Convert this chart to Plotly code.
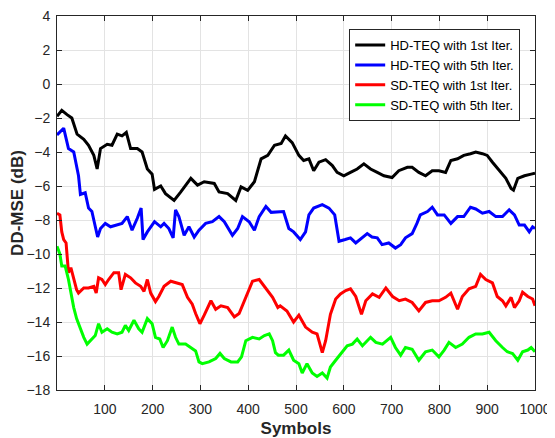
import plotly.graph_objects as go

# HD-TEQ with 1st Iter. (black)
hd1_x = [0, 10, 21, 31, 42, 56, 66, 77, 84, 91, 105, 115, 126, 136, 145, 154, 168, 178, 189, 199, 204, 217, 227, 245, 259, 280, 294, 308, 329, 339, 357, 374, 385, 399, 413, 427, 441, 455, 469, 478, 492, 506, 516, 527, 537, 548, 562, 576, 586, 600, 614, 628, 642, 656, 670, 684, 701, 715, 733, 743, 757, 771, 785, 799, 813, 824, 838, 851, 865, 876, 890, 900, 911, 925, 939, 950, 955, 964, 978, 992, 1000]
hd1_y = [-1.9, -1.55, -1.8, -2.0, -2.95, -3.25, -3.6, -4.2, -5.0, -3.8, -3.55, -3.6, -2.95, -3.05, -2.85, -3.8, -3.8, -4.0, -5.0, -5.3, -6.2, -6.0, -6.45, -6.85, -6.35, -5.55, -5.95, -5.75, -5.85, -6.35, -6.45, -6.85, -6.05, -6.25, -5.75, -4.4, -4.2, -3.6, -3.5, -3.05, -3.45, -4.2, -4.5, -4.4, -5.1, -4.6, -4.45, -4.8, -5.2, -5.4, -5.2, -5.0, -4.7, -5.0, -5.2, -5.4, -5.5, -5.1, -4.9, -4.9, -5.2, -5.4, -5.1, -5.1, -5.2, -4.5, -4.4, -4.2, -4.1, -4.0, -4.1, -4.2, -4.6, -5.1, -5.55, -6.15, -6.25, -5.55, -5.4, -5.3, -5.25]

# HD-TEQ with 5th Iter. (blue)
hd5_x = [0, 14, 24, 35, 45, 49, 59, 66, 73, 80, 85, 91, 101, 112, 122, 136, 147, 157, 168, 176, 180, 189, 204, 217, 224, 234, 243, 248, 255, 266, 276, 287, 297, 311, 325, 339, 350, 367, 378, 388, 402, 413, 423, 437, 448, 465, 474, 485, 495, 509, 520, 527, 537, 555, 569, 581, 590, 603, 614, 625, 639, 649, 659, 670, 680, 694, 708, 719, 729, 743, 753, 760, 775, 785, 796, 810, 824, 838, 851, 865, 876, 890, 904, 918, 932, 946, 957, 967, 978, 988, 995, 1000]
hd5_y = [-3.0, -2.6, -3.8, -4.0, -5.4, -6.5, -6.4, -7.3, -7.5, -8.4, -9.0, -8.5, -8.2, -8.4, -8.3, -8.2, -7.8, -8.6, -7.9, -7.3, -9.15, -8.7, -8.1, -8.4, -8.2, -8.5, -9.05, -7.4, -7.8, -8.9, -8.4, -9.0, -8.6, -8.2, -8.1, -7.8, -8.1, -8.9, -8.5, -7.8, -8.1, -8.6, -7.8, -7.2, -7.55, -7.5, -7.5, -8.5, -8.7, -9.15, -8.7, -7.7, -7.3, -7.1, -7.3, -7.7, -9.25, -9.15, -9.05, -9.35, -9.0, -8.8, -9.0, -9.05, -9.45, -9.35, -9.65, -9.45, -9.05, -8.8, -8.2, -7.7, -7.5, -7.25, -7.7, -7.7, -8.2, -7.8, -7.8, -7.25, -7.35, -7.6, -7.5, -7.8, -7.8, -7.4, -7.7, -8.3, -8.3, -8.7, -8.4, -8.5]

# SD-TEQ with 1st Iter. (red)
sd1_x = [0, 6, 10, 14, 19, 24, 29, 35, 41, 45, 56, 66, 77, 82, 87, 94, 101, 108, 119, 129, 134, 143, 154, 164, 175, 182, 189, 196, 206, 213, 224, 238, 248, 262, 273, 283, 290, 299, 308, 322, 332, 343, 357, 371, 381, 395, 409, 423, 437, 451, 462, 467, 481, 495, 506, 520, 534, 544, 555, 562, 572, 583, 593, 604, 614, 625, 637, 646, 660, 674, 688, 702, 716, 729, 743, 757, 771, 785, 799, 813, 824, 838, 848, 862, 876, 886, 897, 911, 921, 932, 939, 950, 957, 967, 974, 985, 995, 1000]
sd1_y = [-7.6, -7.7, -8.7, -9.15, -9.35, -11.1, -10.8, -11.4, -12.1, -12.3, -12.0, -12.0, -11.9, -12.3, -11.4, -11.5, -11.8, -11.5, -11.1, -11.1, -12.1, -11.2, -11.4, -11.7, -11.9, -12.2, -11.5, -12.3, -12.8, -12.5, -11.9, -11.6, -11.7, -11.8, -12.55, -12.95, -13.5, -14.1, -13.6, -12.75, -13.25, -13.05, -13.15, -13.7, -13.5, -12.55, -11.6, -11.5, -12.0, -12.55, -13.15, -13.05, -13.35, -14.0, -13.6, -14.3, -14.6, -14.7, -15.8, -15.1, -13.55, -12.65, -12.35, -12.15, -12.05, -12.5, -13.55, -12.75, -12.35, -12.55, -12.0, -12.5, -12.75, -12.65, -12.85, -13.35, -12.85, -12.75, -12.75, -12.55, -12.3, -13.25, -12.5, -12.05, -11.9, -11.2, -11.5, -11.7, -12.5, -12.75, -13.05, -12.55, -13.15, -12.75, -12.25, -12.5, -12.65, -13.05]

# SD-TEQ with 5th Iter. (green)
sd5_x = [0, 6, 10, 17, 24, 29, 35, 41, 49, 56, 63, 73, 80, 87, 94, 105, 115, 126, 136, 143, 150, 161, 171, 178, 189, 199, 206, 215, 222, 231, 241, 248, 255, 269, 280, 290, 297, 304, 318, 332, 341, 350, 364, 378, 386, 395, 409, 423, 434, 444, 451, 457, 463, 474, 485, 495, 506, 513, 523, 534, 544, 555, 565, 572, 583, 597, 607, 618, 628, 639, 656, 667, 681, 698, 708, 719, 729, 743, 757, 771, 785, 799, 810, 820, 834, 848, 862, 876, 890, 904, 918, 932, 942, 953, 964, 974, 985, 992, 1000]
sd5_y = [-9.55, -10.0, -10.7, -10.7, -11.5, -12.3, -13.15, -13.8, -14.4, -14.9, -15.3, -15.0, -14.8, -14.1, -14.6, -14.4, -14.6, -14.7, -14.6, -14.2, -14.5, -13.9, -14.4, -14.6, -13.8, -14.1, -14.9, -15.0, -15.5, -15.1, -14.3, -14.9, -15.3, -15.3, -15.5, -15.7, -16.35, -16.45, -16.35, -16.15, -15.85, -16.15, -16.35, -16.35, -16.05, -15.1, -14.9, -15.0, -14.8, -14.7, -15.1, -15.8, -15.95, -15.95, -15.65, -16.25, -16.45, -17.0, -16.45, -17.0, -17.2, -17.0, -17.3, -16.65, -16.25, -15.75, -15.4, -15.3, -15.0, -15.4, -14.9, -15.2, -15.3, -14.9, -15.5, -15.95, -15.5, -15.6, -16.25, -15.75, -15.65, -16.05, -15.65, -15.2, -15.5, -15.3, -14.9, -14.7, -14.7, -14.6, -15.1, -15.5, -15.75, -15.85, -16.25, -15.75, -15.65, -15.5, -15.75]

series = [
    ("HD-TEQ with 1st Iter.", hd1_x, hd1_y, "#000000"),
    ("HD-TEQ with 5th Iter.", hd5_x, hd5_y, "#0000ff"),
    ("SD-TEQ with 1st Iter.", sd1_x, sd1_y, "#ff0000"),
    ("SD-TEQ with 5th Iter.", sd5_x, sd5_y, "#00ff00"),
]

x_ticks = [100, 200, 300, 400, 500, 600, 700, 800, 900, 1000]
y_ticks = [-18, -16, -14, -12, -10, -8, -6, -4, -2, 0, 2, 4]

fig = go.Figure()
for name, xs, ys, col in series:
    fig.add_trace(go.Scatter(x=xs, y=ys, mode="lines", name=name,
                             line=dict(color=col, width=3)))

axis_common = dict(
    automargin=False,
    showgrid=True, gridcolor="#e3e3e3", gridwidth=1,
    showline=True, linecolor="#262626", linewidth=1, mirror="ticks",
    ticks="inside", ticklen=5, tickcolor="#262626",
    tickfont=dict(family="Liberation Sans, Arial", size=14, color="#262626"),
    ticklabeloverflow="allow",
    zeroline=False,
)

fig.update_layout(
    template="none",
    width=547, height=430,
    margin=dict(l=49, r=20, t=8, b=48, autoexpand=False),
    paper_bgcolor="white", plot_bgcolor="white",
    font=dict(family="Liberation Sans, Arial", color="#262626"),
    xaxis=dict(range=[0, 1000], tickvals=x_ticks, ticklabelstandoff=6,
               title=dict(text="<b>Symbols</b>", font=dict(size=17, color="#262626"), standoff=6),
               **axis_common),
    yaxis=dict(range=[-18, 4], tickvals=y_ticks, ticklabelstandoff=3,
               title=dict(text="<b>DD-MSE (dB)</b>", font=dict(size=17, color="#262626"), standoff=6),
               **axis_common),
    legend=dict(x=0.969, y=0.965, xanchor="right", yanchor="top",
                bgcolor="white", bordercolor="#262626", borderwidth=1,
                font=dict(size=13, color="#000000"),
                tracegroupgap=0, itemwidth=30),
    showlegend=True,
)

fig.write_html("out.html")
